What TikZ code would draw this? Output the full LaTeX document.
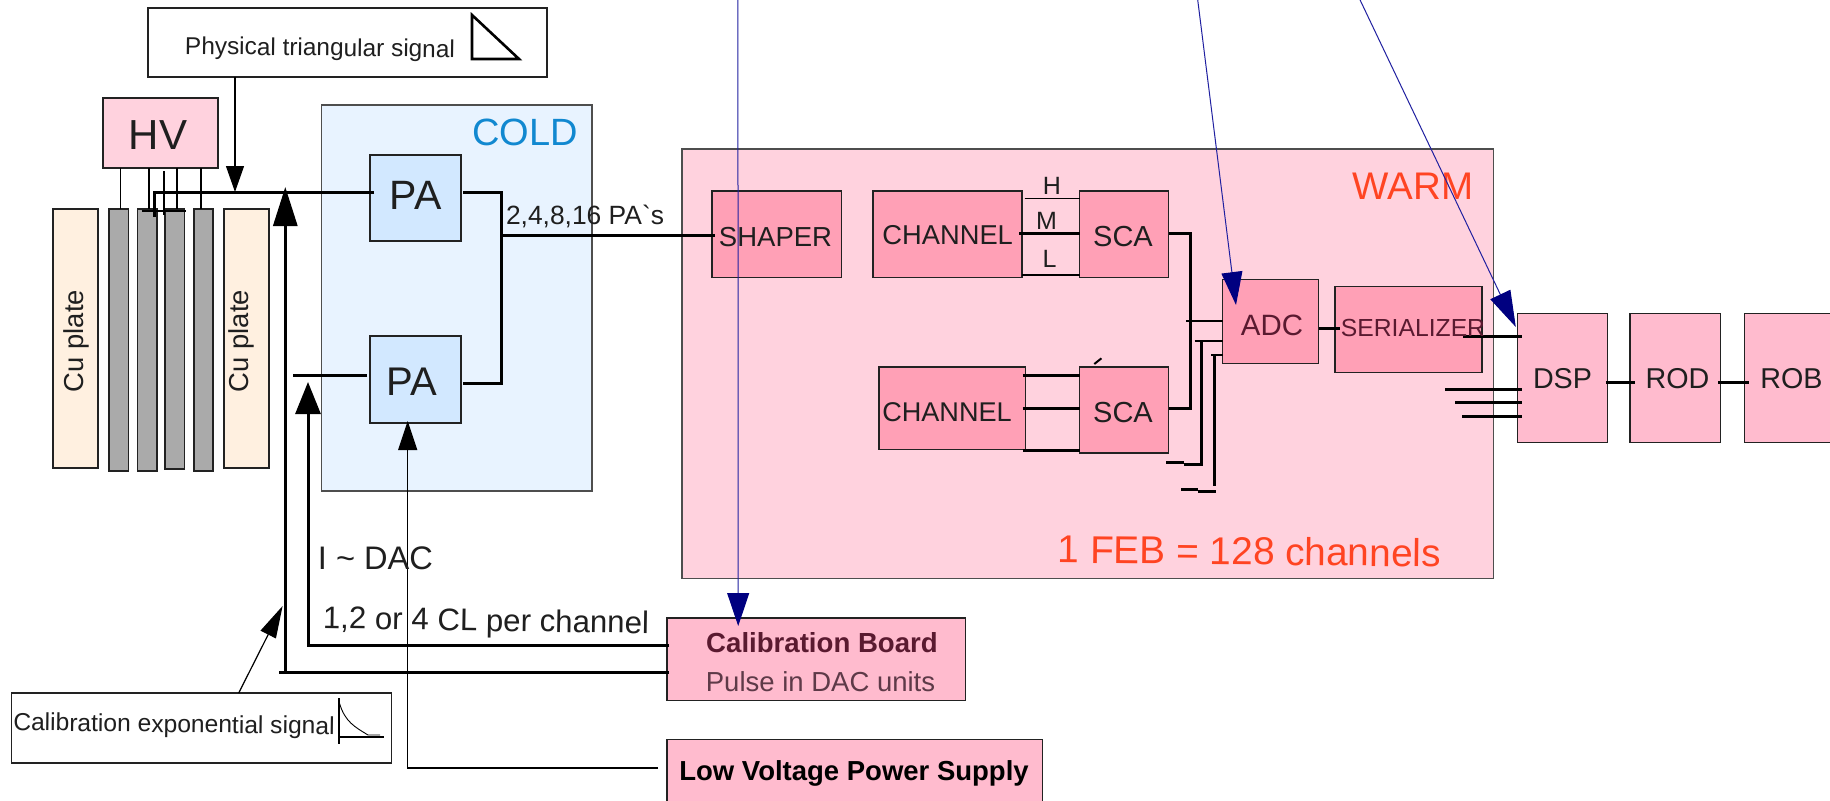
\documentclass[tikz,border=0pt]{standalone}
\usepackage{fontspec}
\setmainfont{Liberation Sans}
\newfontfamily\plainf{Liberation Sans}
\usetikzlibrary{arrows.meta,calc}
\definecolor{warmfill}{HTML}{FFD2DE}
\definecolor{warmbox}{HTML}{FFA0B6}
\definecolor{outerbox}{HTML}{FFBBCE}
\definecolor{coldfill}{HTML}{E8F3FF}
\definecolor{pafill}{HTML}{D2E8FF}
\definecolor{cufill}{HTML}{FFF0E0}
\definecolor{barfill}{HTML}{AAAAAA}
\definecolor{coldtxt}{HTML}{1188D0}
\definecolor{warmtxt}{HTML}{FF4422}
\definecolor{maroon}{HTML}{5A1A30}
\definecolor{softmaroon}{HTML}{5E3A48}
\definecolor{navyhead}{HTML}{000080}
\definecolor{navyline}{HTML}{2020A0}
\definecolor{edge}{HTML}{222222}
\tikzset{
  bxs/.style={draw=edge,line width=1.1pt,inner sep=0pt,outer sep=0pt,rectangle},
  whitebox/.style={bxs,fill=white},
  warmzone/.style={bxs,draw=edge!80,fill=warmfill},
  coldzone/.style={bxs,draw=edge!80,fill=coldfill},
  hvbox/.style={bxs,fill=warmfill},
  pabox/.style={bxs,fill=pafill},
  cubox/.style={bxs,fill=cufill},
  barbox/.style={bxs,fill=barfill},
  febbox/.style={bxs,fill=warmbox},
  outbox/.style={bxs,fill=outerbox},
  txt/.style={inner sep=0pt,outer sep=0pt,text=black!88},
  thinw/.style={line width=1.2pt,draw=black,fill=black},
  medw/.style={line width=2pt,draw=black},
  thickw/.style={line width=3pt,draw=black},
  bluew/.style={line width=1pt,draw=navyline},
}
\newcommand\boxat[6]{%
  \pgfmathsetmacro\bxw{#5-#3}\pgfmathsetmacro\bxh{#6-#4}%
  \node[#2,minimum width=\bxw pt,minimum height=\bxh pt] (#1) at ({(#3+#5)/2},{(#4+#6)/2}) {};}
\newcommand\txtat[6]{%
  \node[txt,font=\fontsize{#4pt}{#4pt}\selectfont,#5] (#1) at (#2,#3) {#6};}
\begin{document}
\begin{tikzpicture}[x=1pt,y=-1pt]
\clip (0,0) rectangle (1830,800);
\fill[white] (0,0) rectangle (1830,800);
% zones
\boxat{warm}{warmzone}{682}{149}{1493.4}{578.7}
\boxat{cold}{coldzone}{321.5}{105}{592}{491}
% top-level boxes
\boxat{phys}{whitebox}{148}{8}{547}{77}
\boxat{hv}{hvbox}{103}{98}{218}{168}
\boxat{cu1}{cubox}{53}{209}{98}{468}
\boxat{cu2}{cubox}{224}{209}{269}{468}
\boxat{bar1}{barbox}{109}{209}{128.5}{471}
\boxat{bar2}{barbox}{137.5}{209}{157}{471}
\boxat{bar3}{barbox}{165}{209}{184.5}{469}
\boxat{bar4}{barbox}{194}{209}{213}{471}
\boxat{pa1}{pabox}{370}{155}{461}{241}
\boxat{pa2}{pabox}{370}{336}{461}{423}
\boxat{calexp}{whitebox}{11.5}{693}{391.5}{763}
\boxat{calb}{outbox}{667}{618}{965.5}{700.7}
\boxat{lv}{outbox}{667}{739.7}{1042.6}{812}
% FEB boxes
\boxat{shaper}{febbox}{712}{191}{841.8}{277.3}
\boxat{chan1}{febbox}{873}{191}{1022}{277.3}
\boxat{sca1}{febbox}{1079.6}{191}{1168.6}{277.3}
\boxat{chan2}{febbox}{879}{367}{1025.7}{449.7}
\boxat{sca2}{febbox}{1079.6}{367}{1168.6}{453}
\boxat{adc}{febbox}{1222.7}{279.3}{1318.9}{363.3}
\boxat{ser}{febbox}{1335}{286.3}{1482}{372.7}
\boxat{dsp}{outbox}{1517.5}{313.3}{1607.9}{442.3}
\boxat{rod}{outbox}{1630}{313.3}{1720.6}{442.3}
\boxat{rob}{outbox}{1744.7}{313.3}{1845}{442.3}
% named junctions and free ends
\coordinate (mainbend) at (154,192);
\coordinate (mainend) at (154,217);
\coordinate (hvmidtop) at (164,171);
\coordinate (hvmidend) at (164,215);
\coordinate (barlinea) at (141.5,211);
\coordinate (barlineb) at (186,211);
\coordinate (stemA) at (278.6,672.7);
\coordinate (stemAb) at (285.3,672.7);
\coordinate (stemAt) at (285.3,187);
\coordinate (stemB) at (308,645.7);
\coordinate (stemBt) at (308,382);
\coordinate (pa2stub) at (292.6,375);
\coordinate (sumtop) at (501,192);
\coordinate (sumbot) at (501,383);
\coordinate (sumout) at (501,235);
\coordinate (lvend) at (658,768);
\coordinate (lvbend) at (407.7,768);
\coordinate (scabus) at (1190,233.3);
\coordinate (scabusb) at (1190,408.7);
\coordinate (feeda) at (1186,321);
\coordinate (feedb) at (1194.5,341.3);
\coordinate (feedc) at (1211,355.3);
\coordinate (vb) at (1201.4,341.3);
\coordinate (vbb) at (1201.4,464);
\coordinate (vbm) at (1183.6,464);
\coordinate (vbm2) at (1183.6,462.7);
\coordinate (vbe) at (1166.4,462.7);
\coordinate (vc) at (1214.3,355.3);
\coordinate (vcb) at (1214.3,486);
\coordinate (wa) at (1215.7,491);
\coordinate (wb) at (1198,491);
\coordinate (wc) at (1198,489.7);
\coordinate (wd) at (1181,489.7);
\coordinate (dspa) at (1462.8,336);
\coordinate (dspb) at (1445,389.3);
\coordinate (dspc) at (1455,402);
\coordinate (dspd) at (1462.4,416.3);
\coordinate (tickA) at (1094.3,364);
\coordinate (tickB) at (1101.4,358.3);
\coordinate (topa) at (737.9,-1);
\coordinate (topb) at (1197.6,-1);
\coordinate (topc) at (1359.6,-1);
% HV wiring
\draw[thinw] ([xshift=17.6pt]hv.south west) -- ([xshift=11.6pt]bar1.north west);
\draw[thinw] ([xshift=46pt]hv.south west) -- ([xshift=11.5pt]bar2.north west);
\draw[thinw] (hvmidtop) -- (hvmidend);
\draw[thinw] ([xshift=74pt]hv.south west) -- ([xshift=12pt]bar3.north west);
\draw[thinw] ([xshift=98pt]hv.south west) -- ([xshift=7pt]bar4.north west);
\draw[medw] (barlinea) -- (barlineb);
% PA wiring
\draw[thickw,line join=miter] ([shift={(4,37)}]pa1.north west) -- (mainbend) -- (mainend);
\draw[thickw] ([shift={(2,37)}]pa1.north east) -- (sumtop) -- (sumbot) -- ([shift={(2,47)}]pa2.north east);
\draw[thickw] (sumout) -- ([shift={(3,44)}]shaper.north west);
\draw[thickw] ([shift={(-3,39)}]pa2.north west) -- (pa2stub);
% arrows into the input lines
\draw[thinw,-{Triangle[length=26pt,width=18pt]}] ([xshift=87pt]phys.south west) -- (235,192);
\draw[thickw] ([shift={(2,54.7)}]calb.north west) -- (stemA);
\draw[thickw,-{Triangle[length=39pt,width=24pt]}] (stemAb) -- (stemAt);
\draw[thickw,-{Triangle[length=32pt,width=25pt]}] ([shift={(2,27.7)}]calb.north west) -- (stemB) -- (stemBt);
\draw[thinw,fill=none,-{Triangle[length=29pt,width=19pt]}] (lvend) -- (lvbend) -- ([shift={(37.7,-2)}]pa2.south west);
\draw[thinw,-{Triangle[length=32pt,width=17pt]}] ([xshift=227.2pt]calexp.north west) -- (282.6,606);
% FEB wiring
\draw[thinw] ([shift={(2.6,7.3)}]chan1.north east) -- ([shift={(0,7.3)}]sca1.north west);
\draw[thickw] ([shift={(-3,42.7)}]chan1.north east) -- ([shift={(0,42.7)}]sca1.north west);
\draw[medw] ([shift={(0,83.7)}]chan1.north east) -- ([shift={(0,83.7)}]sca1.north west);
\draw[thickw] ([shift={(-2.8,8)}]chan2.north east) -- ([shift={(0,8)}]sca2.north west);
\draw[thickw] ([shift={(-2.8,41.7)}]chan2.north east) -- ([shift={(0,41.7)}]sca2.north west);
\draw[thickw] ([shift={(-2.8,83.3)}]chan2.north east) -- ([shift={(0,83.3)}]sca2.north west);
\draw[medw] (tickA) -- (tickB);
\draw[thickw] ([shift={(0,42.3)}]sca1.north east) -- (scabus) -- (scabusb) -- ([shift={(0,41.7)}]sca2.north east);
\draw[medw] (feeda) -- ([shift={(0,41.7)}]adc.north west);
\draw[medw] (feedb) -- ([shift={(0,62)}]adc.north west);
\draw[medw] (feedc) -- ([shift={(0,76)}]adc.north west);
\draw[thickw] (vb) -- (vbb) -- (vbm);
\draw[thickw] (vbm2) -- (vbe);
\draw[thickw] (vc) -- (vcb);
\draw[thickw] (wa) -- (wb);
\draw[thickw] (wc) -- (wd);
\draw[thickw] ([shift={(0,49)}]adc.north east) -- ([shift={(4.6,42)}]ser.north west);
% output wiring
\draw[thickw] (dspa) -- ([shift={(4.5,22.7)}]dsp.north west);
\draw[thickw] (dspb) -- ([shift={(4.5,76)}]dsp.north west);
\draw[thickw] (dspc) -- ([shift={(4.5,88.7)}]dsp.north west);
\draw[thickw] (dspd) -- ([shift={(4.5,103)}]dsp.north west);
\draw[thickw] ([shift={(-2,69)}]dsp.north east) -- ([shift={(4.8,69)}]rod.north west);
\draw[thickw] ([shift={(-2.6,69)}]rod.north east) -- ([shift={(4.3,69)}]rob.north west);
% glyph sketches
\draw[line width=2.6pt,line join=miter] (472,15) -- (472,59) -- (519,59) -- cycle;
\draw[line width=2pt] (339.4,698) -- (339.4,744);
\draw[line width=2.4pt] (339,737) -- (384,737);
\draw[line width=0.9pt] (339.4,703) .. controls (345,722) and (355,727) .. (368,735) -- (380,735);
% texts
\txtat{tphys}{320}{49.5}{24.4}{rotate=-0.7}{Physical triangular signal}
\txtat{thv}{158}{135}{42}{}{HV}
\txtat{tcu1}{76}{341}{27.4}{rotate=90}{Cu plate}
\txtat{tcu2}{241}{341}{27.4}{rotate=90}{Cu plate}
\txtat{tcold}{525}{132}{38}{text=coldtxt}{COLD}
\txtat{tpa1}{415.7}{195}{41}{}{PA}
\txtat{tpa2}{411.5}{381.7}{40}{}{PA}
\txtat{tpas}{585}{216}{26.4}{}{2,4,8,16 PA{\plainf `}s}
\txtat{tdac}{375.5}{558}{32.6}{}{I \textasciitilde{} DAC}
\txtat{tcl}{486}{623}{31.2}{rotate=-0.9}{1,2 or 4 CL per channel}
\txtat{tcalexp}{174}{726}{24.6}{rotate=-0.7}{Calibration exponential signal}
\txtat{tcalb}{822}{642.5}{27.6}{text=maroon,font=\fontsize{27.6pt}{27.6pt}\selectfont\bfseries}{Calibration Board}
\txtat{tpulse}{820.5}{682}{27.5}{text=softmaroon}{Pulse in DAC units}
\txtat{tlv}{854}{773}{27.5}{text=black,font=\fontsize{27.5pt}{27.5pt}\selectfont\bfseries}{Low Voltage Power Supply}
\txtat{twarm}{1413}{186}{38.5}{text=warmtxt}{WARM}
\txtat{tfeb}{1249.5}{551}{38.8}{text=warmtxt,rotate=-0.6}{1 FEB = 128 channels}
\txtat{tshaper}{775.5}{236.7}{27.5}{}{SHAPER}
\txtat{tchan1}{947.7}{235}{27.3}{}{CHANNEL}
\txtat{tchan2}{947}{411.7}{27.1}{}{CHANNEL}
\txtat{tsca1}{1123}{237}{29}{}{SCA}
\txtat{tsca2}{1123}{412.7}{29}{}{SCA}
\txtat{th}{1052}{186}{25}{}{H}
\txtat{tm}{1046.4}{220.7}{25}{}{M}
\txtat{tl}{1049.6}{259}{25}{}{L}
\txtat{tadc}{1272}{325.3}{29.4}{text=maroon}{ADC}
\txtat{tser}{1413}{327.7}{24.7}{text=maroon}{SERIALIZER}
\txtat{tdsp}{1562.5}{378.3}{28.7}{}{DSP}
\txtat{trod}{1677.5}{378.3}{28.7}{}{ROD}
\txtat{trob}{1791.5}{378.3}{28.7}{}{ROB}
% blue pointers
\draw[bluew,-{Triangle[length=33pt,width=22pt,color=navyhead]}] (topa) -- ([shift={(71.2,8)}]calb.north west);
\draw[bluew,-{Triangle[length=33pt,width=21pt,color=navyhead]}] (topb) -- ([shift={(13.3,25.7)}]adc.north west);
\draw[bluew,-{Triangle[length=36pt,width=22pt,color=navyhead]}] (topc) -- ([shift={(-1.7,13.7)}]dsp.north west);
\end{tikzpicture}
\end{document}
